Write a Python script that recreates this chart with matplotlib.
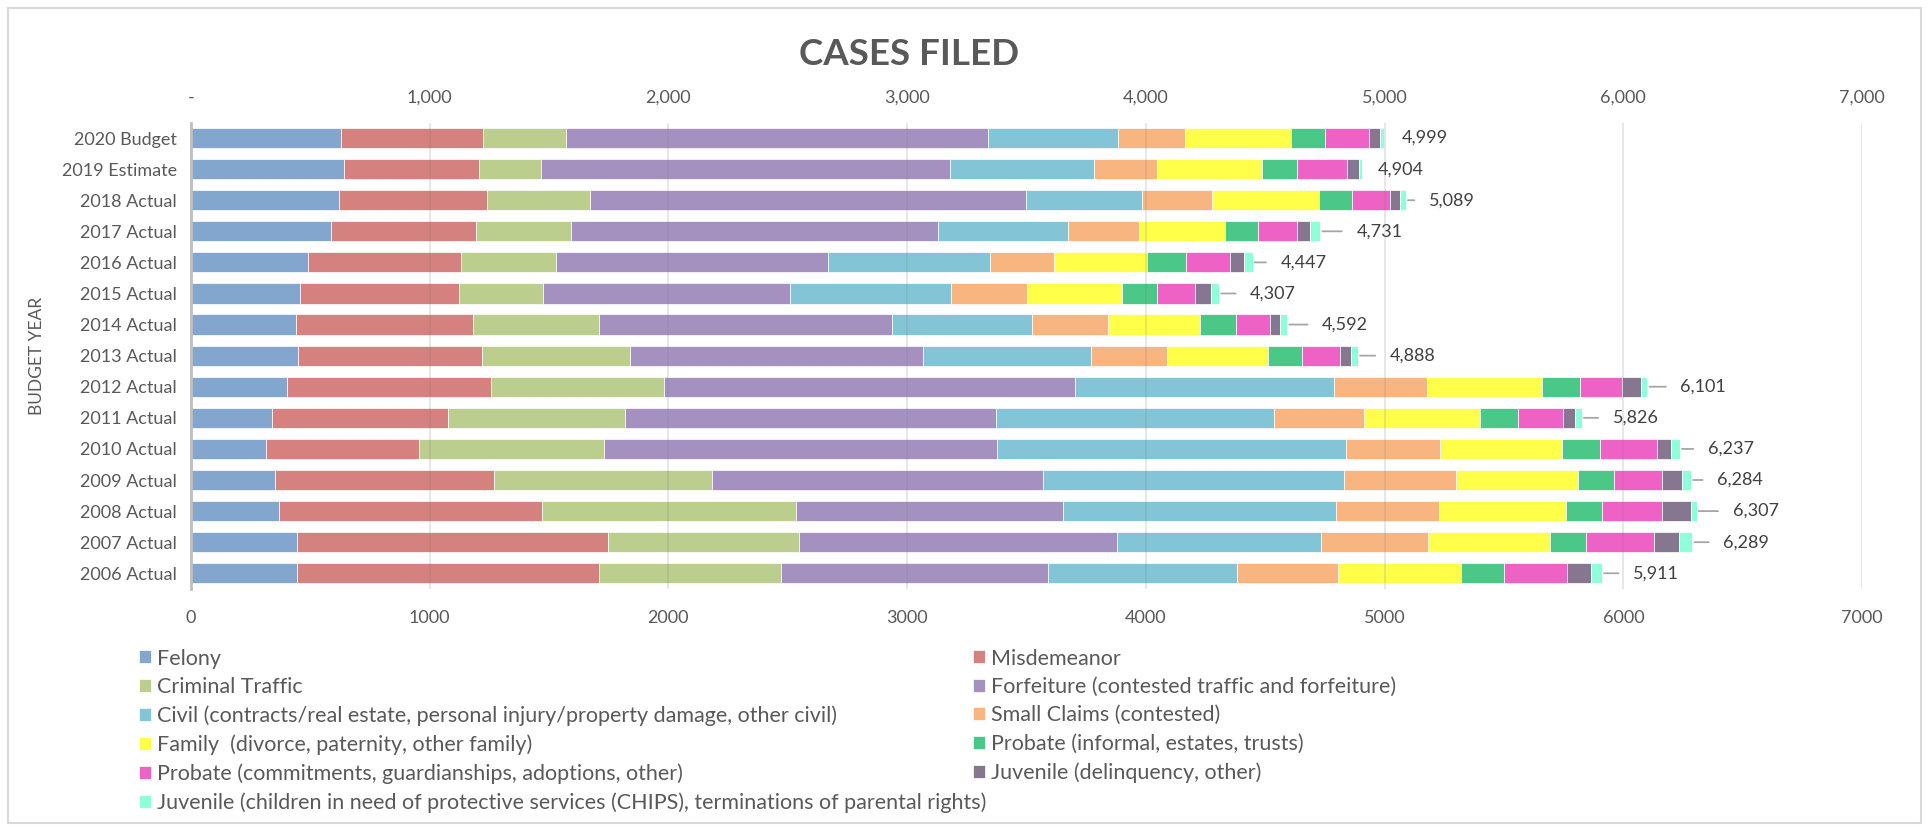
import numpy as np
import matplotlib
matplotlib.use("Agg")
import matplotlib.pyplot as plt
from matplotlib.patches import Rectangle

plt.rcParams['font.family'] = ['Lato', 'DejaVu Sans']

# Budget years, top to bottom
years = ["2020 Budget", "2019 Estimate", "2018 Actual", "2017 Actual", "2016 Actual",
         "2015 Actual", "2014 Actual", "2013 Actual", "2012 Actual", "2011 Actual",
         "2010 Actual", "2009 Actual", "2008 Actual", "2007 Actual", "2006 Actual"]

felony = [630, 640, 620, 585, 489, 458, 441, 447, 401, 338, 313, 353, 367, 445, 445]
misdemeanor = [593, 567, 620, 609, 642, 666, 741, 772, 856, 739, 642, 917, 1104, 1302, 1265]
criminal_traffic = [347, 258, 432, 398, 398, 351, 529, 619, 725, 740, 774, 912, 1063, 798, 762]
forfeiture = [1769, 1715, 1825, 1538, 1141, 1036, 1227, 1229, 1723, 1555, 1649, 1387, 1120, 1332, 1119]
civil = [545, 601, 485, 545, 675, 673, 583, 703, 1084, 1163, 1460, 1259, 1144, 858, 790]
small_claims = [281, 265, 296, 297, 270, 319, 321, 319, 387, 380, 395, 469, 428, 448, 425]
family = [441, 439, 448, 359, 388, 399, 383, 421, 482, 486, 509, 513, 534, 510, 512]
probate_informal = [144, 149, 137, 137, 165, 143, 151, 142, 159, 156, 159, 150, 152, 152, 183]
probate_commit = [183, 208, 161, 166, 185, 160, 145, 161, 179, 190, 242, 201, 250, 284, 264]
juvenile = [49, 49, 40, 52, 56, 69, 39, 47, 78, 52, 57, 85, 120, 103, 100]
chips = [17, 13, 25, 45, 38, 33, 32, 28, 27, 27, 37, 38, 25, 57, 46]

series_names = ["Felony",
                "Misdemeanor",
                "Criminal Traffic",
                "Forfeiture (contested traffic and forfeiture)",
                "Civil (contracts/real estate, personal injury/property damage, other civil)",
                "Small Claims (contested)",
                "Family  (divorce, paternity, other family)",
                "Probate (informal, estates, trusts)",
                "Probate (commitments, guardianships, adoptions, other)",
                "Juvenile (delinquency, other)",
                "Juvenile (children in need of protective services (CHIPS), terminations of parental rights)"]

series = [felony, misdemeanor, criminal_traffic, forfeiture, civil, small_claims,
          family, probate_informal, probate_commit, juvenile, chips]

colors = ["#82A6CE", "#D48180", "#BCCE8D", "#A591C0", "#83C4D6", "#F9B580",
          "#FFFF4A", "#4BC887", "#EE62C6", "#86768F", "#8EFFD8"]

# gap (pixels) between bar end and total label
label_gap = [17, 16, 23, 36, 28, 31, 35, 32, 33, 31, 28, 26, 36, 31, 31]

text_col = "#595959"

fig = plt.figure(figsize=(19.31, 8.30), dpi=100)
ax = fig.add_axes([0.0989, 0.2906, 0.8654, 0.5618])

y = np.arange(len(years))
left = np.zeros(len(years))
handles = []
for name, vals, c in zip(series_names, series, colors):
    b = ax.barh(y, vals, left=left, height=0.65, color=c, edgecolor="white",
                linewidth=0.5, label=name, zorder=2)
    handles.append(b)
    left = left + np.array(vals)

totals = left

# total labels with leader lines
for i, tot in enumerate(totals):
    gap = label_gap[i] * 0.72
    if label_gap[i] > 20:
        ax.annotate("{:,}".format(int(tot)), xy=(tot, i), xytext=(gap, 0),
                    textcoords="offset points", ha="left", va="center",
                    fontsize=13, color="#404040",
                    arrowprops=dict(arrowstyle="-", color="#A6A6A6", lw=1.3,
                                    relpos=(0, 0.5), shrinkA=8.5, shrinkB=1.5))
    else:
        ax.annotate("{:,}".format(int(tot)), xy=(tot, i), xytext=(gap, 0),
                    textcoords="offset points", ha="left", va="center",
                    fontsize=13, color="#404040")

ax.set_xlim(0, 7000)
ax.set_ylim(len(years) - 0.5, -0.5)
ax.set_yticks(y)
ax.set_yticklabels(years, fontsize=13, color=text_col)
ticks = np.arange(0, 7001, 1000)
ax.set_xticks(ticks)
ax.set_xticklabels([str(t) for t in ticks], fontsize=13, color=text_col)
ax.tick_params(axis="both", length=0)
ax.tick_params(axis="x", pad=15)
ax.tick_params(axis="y", pad=10)

for t in ticks[1:]:
    ax.axvline(t, color="#7F7F7F", alpha=0.2, lw=1.3, zorder=3)

for s in ["top", "right", "bottom"]:
    ax.spines[s].set_visible(False)
ax.spines["left"].set_color("#BFBFBF")
ax.spines["left"].set_linewidth(2)
ax.spines["left"].set_zorder(4)

ax.set_ylabel("BUDGET YEAR", fontsize=12.5, color=text_col, labelpad=12)

# top axis
top = ax.secondary_xaxis("top")
top.set_xticks(ticks)
top.set_xticklabels(["-"] + ["{:,}".format(t) for t in ticks[1:]], fontsize=13, color=text_col)
top.tick_params(length=0, pad=12)
top.spines["top"].set_visible(False)

fig.text(0.471, 0.934, "CASES FILED", ha="center", va="center", fontsize=26.5,
         fontweight="bold", color=text_col)

# legend: two columns placed separately, filled row by row
leg_kw = dict(loc="upper left", ncol=1, frameon=False, fontsize=15.5, labelcolor=text_col,
              handlelength=0.55, handleheight=0.55, handletextpad=0.3,
              labelspacing=0.39, borderpad=0, borderaxespad=0)
col1 = [0, 2, 4, 6, 8, 10]
col2 = [1, 3, 5, 7, 9]
fig.legend([handles[k] for k in col1], [series_names[k] for k in col1],
           bbox_to_anchor=(0.072, 0.2186), **leg_kw)
fig.legend([handles[k] for k in col2], [series_names[k] for k in col2],
           bbox_to_anchor=(0.5039, 0.2186), **leg_kw)

fig.patches.append(Rectangle((0.004, 0.009), 0.991, 0.981, transform=fig.transFigure,
                             fill=False, edgecolor="#D9D9D9", lw=1.5))

fig.savefig("out.png", dpi=100)
